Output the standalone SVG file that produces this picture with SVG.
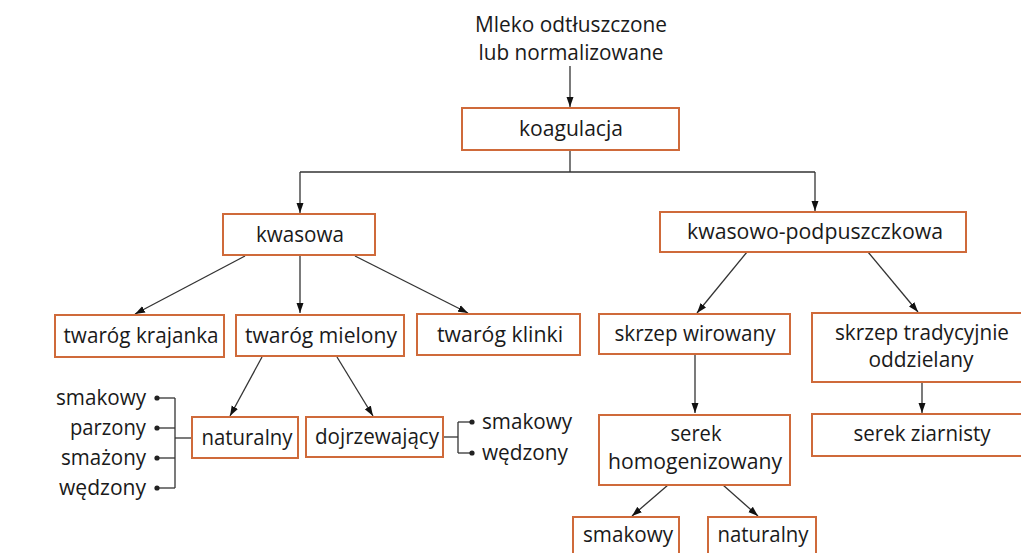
<svg xmlns="http://www.w3.org/2000/svg" width="1021" height="553" viewBox="0 0 1021 553">
<style>
.box{fill:#fff;stroke:#cf6a3a;stroke-width:2}
.t{font-family:"Open Sans","Noto Sans","DejaVu Sans",sans-serif;font-size:21.5px;fill:#1a1a1a;text-anchor:middle}
.l{text-anchor:end}
.r{text-anchor:start}
.c{fill:none;stroke:#333;stroke-width:1.3}
.a{marker-end:url(#arr)}
.d{fill:#222}
</style>
<defs>
<marker id="arr" markerUnits="userSpaceOnUse" markerWidth="11" markerHeight="8" refX="10" refY="4" orient="auto">
<path d="M0,0.5 L10,4 L0,7.5 z" fill="#111"/>
</marker>
</defs>
<rect width="1021" height="553" fill="#fff"/>
<g id="connectors">
<line class="c a" x1="570" y1="66" x2="570" y2="107"/>
<polyline class="c" points="570,150 570,172"/>
<line class="c" x1="300" y1="172" x2="815" y2="172"/>
<line class="c a" x1="300" y1="172" x2="300" y2="213"/>
<line class="c a" x1="815" y1="172" x2="815" y2="211"/>
<line class="c a" x1="245" y1="256" x2="135" y2="314"/>
<line class="c a" x1="300" y1="256" x2="300" y2="313"/>
<line class="c a" x1="355" y1="256" x2="468" y2="313"/>
<line class="c a" x1="262" y1="357" x2="230" y2="416"/>
<line class="c a" x1="337" y1="357" x2="373" y2="416"/>
<line class="c a" x1="747" y1="252" x2="697" y2="313"/>
<line class="c a" x1="868" y1="252" x2="918" y2="312"/>
<line class="c a" x1="695" y1="354" x2="695" y2="413"/>
<line class="c a" x1="922" y1="382" x2="922" y2="413"/>
<line class="c a" x1="668" y1="485" x2="632" y2="516"/>
<line class="c a" x1="723" y1="485" x2="758" y2="516"/>
<line class="c" x1="192" y1="438" x2="175" y2="438"/>
<line class="c" x1="175" y1="398" x2="175" y2="488"/>
<line class="c" x1="157" y1="398" x2="175" y2="398"/>
<line class="c" x1="157" y1="428" x2="175" y2="428"/>
<line class="c" x1="157" y1="458" x2="175" y2="458"/>
<line class="c" x1="157" y1="488" x2="175" y2="488"/>
<circle class="d" cx="157" cy="398" r="2.6"/>
<circle class="d" cx="157" cy="428" r="2.6"/>
<circle class="d" cx="157" cy="458" r="2.6"/>
<circle class="d" cx="157" cy="488" r="2.6"/>
<line class="c" x1="443" y1="437" x2="458" y2="437"/>
<line class="c" x1="458" y1="422" x2="458" y2="453"/>
<line class="c" x1="458" y1="422" x2="472" y2="422"/>
<line class="c" x1="458" y1="453" x2="472" y2="453"/>
<circle class="d" cx="472" cy="422" r="2.6"/>
<circle class="d" cx="472" cy="453" r="2.6"/>
</g>
<g id="source">
<text class="t" x="571" y="32" textLength="192" lengthAdjust="spacingAndGlyphs">Mleko odtłuszczone</text>
<text class="t" x="571" y="60" textLength="185" lengthAdjust="spacingAndGlyphs">lub normalizowane</text>
</g>
<g id="koagulacja">
<rect class="box" x="462" y="108" width="217" height="42"/>
<text class="t" x="571" y="136" textLength="104" lengthAdjust="spacingAndGlyphs">koagulacja</text>
</g>
<g id="kwasowa">
<rect class="box" x="223" y="214" width="152" height="41"/>
<text class="t" x="300" y="242" textLength="88" lengthAdjust="spacingAndGlyphs">kwasowa</text>
</g>
<g id="kwasowo-podpuszczkowa">
<rect class="box" x="660" y="212" width="306" height="40"/>
<text class="t" x="815" y="239" textLength="256" lengthAdjust="spacingAndGlyphs">kwasowo-podpuszczkowa</text>
</g>
<g id="twarog-krajanka">
<rect class="box" x="55" y="315" width="169" height="42"/>
<text class="t" x="141" y="343" textLength="155" lengthAdjust="spacingAndGlyphs">twaróg krajanka</text>
</g>
<g id="twarog-mielony">
<rect class="box" x="236" y="315" width="168" height="41"/>
<text class="t" x="321" y="343" textLength="152" lengthAdjust="spacingAndGlyphs">twaróg mielony</text>
</g>
<g id="twarog-klinki">
<rect class="box" x="417" y="314" width="163" height="41"/>
<text class="t" x="500" y="342" textLength="126" lengthAdjust="spacingAndGlyphs">twaróg klinki</text>
</g>
<g id="skrzep-wirowany">
<rect class="box" x="599" y="314" width="191" height="40"/>
<text class="t" x="695" y="341" textLength="161" lengthAdjust="spacingAndGlyphs">skrzep wirowany</text>
</g>
<g id="skrzep-tradycyjnie">
<rect class="box" x="812" y="313" width="210" height="69"/>
<text class="t" x="922" y="340" textLength="174" lengthAdjust="spacingAndGlyphs">skrzep tradycyjnie</text>
<text class="t" x="921" y="367" textLength="105" lengthAdjust="spacingAndGlyphs">oddzielany</text>
</g>
<g id="serek-ziarnisty">
<rect class="box" x="812" y="414" width="210" height="42"/>
<text class="t" x="922" y="441" textLength="137" lengthAdjust="spacingAndGlyphs">serek ziarnisty</text>
</g>
<g id="naturalny-1">
<rect class="box" x="192" y="417" width="106" height="41"/>
<text class="t" x="247" y="445" textLength="91" lengthAdjust="spacingAndGlyphs">naturalny</text>
</g>
<g id="dojrzewajacy">
<rect class="box" x="306" y="417" width="137" height="40"/>
<text class="t" x="377" y="444" textLength="124" lengthAdjust="spacingAndGlyphs">dojrzewający</text>
</g>
<g id="serek-homogenizowany">
<rect class="box" x="599" y="415" width="191" height="70"/>
<text class="t" x="696" y="441" textLength="51" lengthAdjust="spacingAndGlyphs">serek</text>
<text class="t" x="695" y="469" textLength="174" lengthAdjust="spacingAndGlyphs">homogenizowany</text>
</g>
<g id="smakowy-2">
<rect class="box" x="573" y="517" width="106" height="45"/>
<text class="t" x="628" y="542" textLength="90" lengthAdjust="spacingAndGlyphs">smakowy</text>
</g>
<g id="naturalny-2">
<rect class="box" x="708" y="517" width="108" height="45"/>
<text class="t" x="763" y="542" textLength="91" lengthAdjust="spacingAndGlyphs">naturalny</text>
</g>
<g id="naturalny-variants">
<text class="t l" x="146" y="405" textLength="90" lengthAdjust="spacingAndGlyphs">smakowy</text>
<text class="t l" x="146" y="435" textLength="76" lengthAdjust="spacingAndGlyphs">parzony</text>
<text class="t l" x="146" y="465" textLength="85" lengthAdjust="spacingAndGlyphs">smażony</text>
<text class="t l" x="146" y="495" textLength="87" lengthAdjust="spacingAndGlyphs">wędzony</text>
</g>
<g id="dojrzewajacy-variants">
<text class="t r" x="482" y="429" textLength="90" lengthAdjust="spacingAndGlyphs">smakowy</text>
<text class="t r" x="482" y="460" textLength="86" lengthAdjust="spacingAndGlyphs">wędzony</text>
</g>
</svg>
